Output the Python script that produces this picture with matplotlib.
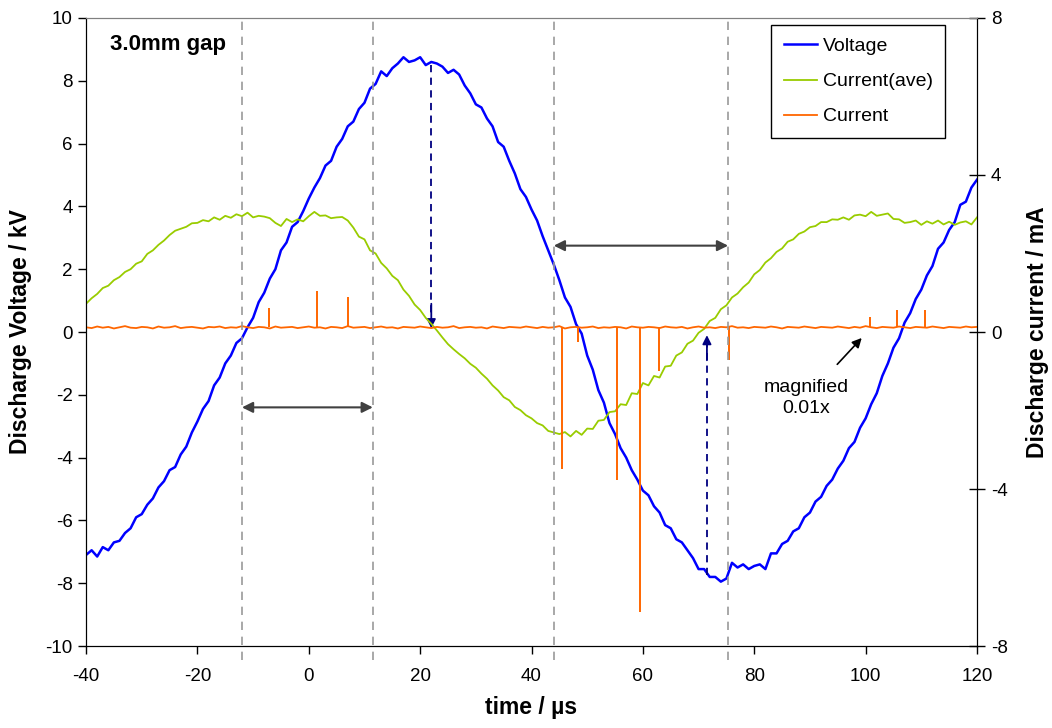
import numpy as np
import matplotlib.pyplot as plt
import matplotlib.transforms as mtransforms

plt.rcParams['font.family'] = ['Liberation Sans', 'DejaVu Sans']
plt.rcParams['axes.unicode_minus'] = False

# time axis, 1 us steps
t = np.arange(-40, 121, 1)

# discharge voltage (kV)
volt = [
    -7.10, -6.95, -7.15, -6.85, -6.95, -6.70, -6.65, -6.40, -6.25, -5.90,
    -5.80, -5.50, -5.30, -4.95, -4.75, -4.40, -4.30, -3.90, -3.65, -3.20,
    -2.85, -2.45, -2.20, -1.70, -1.45, -1.00, -0.75, -0.35, -0.20, 0.15,
    0.45, 0.95, 1.25, 1.70, 2.00, 2.60, 2.85, 3.35, 3.50, 3.85,
    4.25, 4.60, 4.90, 5.30, 5.45, 5.90, 6.15, 6.55, 6.70, 7.10,
    7.30, 7.75, 7.90, 8.30, 8.15, 8.40, 8.55, 8.75, 8.60, 8.65,
    8.75, 8.50, 8.60, 8.55, 8.45, 8.25, 8.35, 8.20, 7.85, 7.60,
    7.25, 7.15, 6.80, 6.55, 6.05, 5.90, 5.45, 5.05, 4.55, 4.30,
    3.90, 3.55, 3.05, 2.60, 2.15, 1.65, 1.10, 0.80, 0.25, -0.05,
    -0.75, -1.20, -1.85, -2.25, -2.90, -3.25, -3.70, -4.00, -4.40, -4.70,
    -5.05, -5.20, -5.55, -5.75, -6.15, -6.25, -6.60, -6.70, -6.95, -7.20,
    -7.55, -7.55, -7.80, -7.80, -7.95, -7.85, -7.35, -7.50, -7.40, -7.55,
    -7.45, -7.40, -7.55, -7.05, -7.05, -6.75, -6.65, -6.35, -6.25, -5.90,
    -5.75, -5.40, -5.25, -4.90, -4.70, -4.35, -4.10, -3.70, -3.50, -3.05,
    -2.75, -2.30, -1.95, -1.40, -1.00, -0.50, -0.20, 0.30, 0.60, 1.05,
    1.35, 1.80, 2.10, 2.65, 2.85, 3.25, 3.50, 4.05, 4.15, 4.60, 4.85,
]

# averaged discharge current (mA)
cur_ave = [
    0.72, 0.86, 0.97, 1.12, 1.18, 1.32, 1.40, 1.53, 1.60, 1.74,
    1.80, 1.99, 2.08, 2.22, 2.33, 2.47, 2.58, 2.63, 2.68, 2.77,
    2.78, 2.85, 2.82, 2.92, 2.86, 2.96, 2.91, 3.00, 2.95, 3.04,
    2.92, 2.96, 2.94, 2.90, 2.78, 2.70, 2.88, 2.80, 2.87, 2.82,
    2.95, 3.06, 2.96, 2.97, 2.90, 2.92, 2.93, 2.84, 2.66, 2.43,
    2.36, 2.08, 2.00, 1.76, 1.62, 1.43, 1.32, 1.08, 0.92, 0.70,
    0.56, 0.36, 0.21, 0.04, -0.14, -0.31, -0.44, -0.56, -0.67, -0.81,
    -0.91, -1.06, -1.19, -1.36, -1.49, -1.66, -1.74, -1.91, -1.99, -2.12,
    -2.20, -2.32, -2.38, -2.52, -2.56, -2.60, -2.55, -2.66, -2.52, -2.62,
    -2.46, -2.47, -2.26, -2.24, -2.04, -2.02, -1.84, -1.86, -1.56, -1.58,
    -1.30, -1.36, -1.12, -1.16, -0.88, -0.86, -0.60, -0.52, -0.30, -0.22,
    -0.02, 0.08, 0.28, 0.36, 0.58, 0.68, 0.88, 0.98, 1.14, 1.26,
    1.47, 1.58, 1.77, 1.88, 2.04, 2.13, 2.30, 2.36, 2.50, 2.56,
    2.67, 2.70, 2.80, 2.80, 2.87, 2.86, 2.92, 2.86, 2.97, 2.99,
    2.95, 3.06, 2.96, 2.99, 3.02, 2.88, 2.87, 2.78, 2.80, 2.84,
    2.73, 2.82, 2.76, 2.84, 2.74, 2.81, 2.73, 2.79, 2.82, 2.74, 2.92,
]

# instantaneous current (mA, x0.01) - baseline
cur = [
    0.12, 0.10, 0.14, 0.11, 0.13, 0.09, 0.12, 0.15, 0.11, 0.10,
    0.13, 0.12, 0.09, 0.14, 0.11, 0.12, 0.15, 0.10, 0.12, 0.13,
    0.11, 0.09, 0.13, 0.12, 0.14, 0.10, 0.12, 0.11, 0.15, 0.12,
    0.10, 0.13, 0.12, 0.09, 0.14, 0.11, 0.12, 0.13, 0.10, 0.12,
    0.14, 0.11, 0.12, 0.09, 0.13, 0.12, 0.10, 0.15, 0.11, 0.12,
    0.13, 0.10, 0.12, 0.14, 0.11, 0.12, 0.09, 0.13, 0.12, 0.11,
    0.14, 0.12, 0.10, 0.13, 0.11, 0.12, 0.15, 0.10, 0.12, 0.13,
    0.11, 0.12, 0.09, 0.14, 0.12, 0.10, 0.13, 0.12, 0.11, 0.14,
    0.12, 0.10, 0.13, 0.11, 0.12, 0.15, 0.09, 0.12, 0.13, 0.11,
    0.12, 0.14, 0.10, 0.12, 0.11, 0.13, 0.12, 0.09, 0.14, 0.12,
    0.11, 0.13, 0.12, 0.10, 0.14, 0.12, 0.11, 0.13, 0.09, 0.12,
    0.14, 0.11, 0.12, 0.10, 0.13, 0.12, 0.15, 0.11, 0.12, 0.10,
    0.13, 0.12, 0.11, 0.14, 0.12, 0.09, 0.13, 0.12, 0.11, 0.14,
    0.12, 0.10, 0.13, 0.12, 0.11, 0.14, 0.12, 0.10, 0.13, 0.11,
    0.15, 0.12, 0.10, 0.13, 0.12, 0.11, 0.14, 0.12, 0.10, 0.13,
    0.12, 0.11, 0.14, 0.12, 0.10, 0.13, 0.12, 0.11, 0.14, 0.12, 0.13,
]

# discharge pulses on the current trace
spike_t = [-7.2, 1.5, 7.0, 45.5, 48.3, 55.3, 59.4, 62.9, 75.5, 100.8, 105.6, 110.7]
spike_i = [0.62, 1.05, 0.90, -3.50, -0.25, -3.77, -7.13, -1.00, -0.71, 0.38, 0.56, 0.56]
spike_base = 0.12

# phase markers (us)
marks = [-12.0, 11.5, 44.0, 75.3]

BLUE = '#0000FF'
GREEN = '#99CC00'
ORANGE = '#FF6600'
NAVY = '#000080'

fig = plt.figure(figsize=(10.52, 7.28), dpi=100)
ax = fig.add_axes([0.0818, 0.1126, 0.8469, 0.8627])
ax2 = ax.twinx()

l1, = ax.plot(t, volt, color=BLUE, lw=1.8, label='Voltage')
l2, = ax2.plot(t, cur_ave, color=GREEN, lw=1.3, label='Current(ave)')
l3, = ax2.plot(t, cur, color=ORANGE, lw=1.3, label='Current')
ax2.vlines(spike_t, spike_base, spike_i, color=ORANGE, lw=1.4)

ax.set_xlim(-40, 120)
ax.set_ylim(-10, 10)
ax2.set_ylim(-8, 8)
ax.set_xticks(np.arange(-40, 121, 20))
ax.set_yticks(np.arange(-10, 11, 2))
ax2.set_yticks([-8, -4, 0, 4, 8])

ax.tick_params(axis='both', labelsize=13.5, direction='out', length=6, width=1)
ax.tick_params(axis='x', pad=10)
ax2.tick_params(axis='y', labelsize=13.5, direction='inout', length=12, width=1, pad=4)

for a in (ax, ax2):
    a.spines['top'].set_color('#808080')
    a.spines['left'].set_color('black')
    a.spines['bottom'].set_color('black')
    a.spines['right'].set_color('black')

ax.set_xlabel('time / µs', fontsize=16.5, fontweight='bold', labelpad=8)
ax.set_ylabel('Discharge Voltage / kV', fontsize=16.5, fontweight='bold', labelpad=10)
ax2.set_ylabel('Discharge current / mA', fontsize=16.5, fontweight='bold', labelpad=13)

# dashed phase markers, running slightly below the axis
trans = mtransforms.blended_transform_factory(ax.transData, ax.transAxes)
for m in marks:
    ax2.plot([m, m], [-0.022, 1.0], transform=trans, color='#999999', lw=1.2,
             ls=(0, (5, 4)), clip_on=False)

# double-headed interval arrows
ax.annotate('', xy=(marks[0], -2.4), xytext=(marks[1], -2.4),
            arrowprops=dict(arrowstyle='<|-|>', color='#404040', lw=1.5,
                            mutation_scale=16, shrinkA=0, shrinkB=0))
ax.annotate('', xy=(marks[2], 2.75), xytext=(marks[3], 2.75),
            arrowprops=dict(arrowstyle='<|-|>', color='#404040', lw=1.5,
                            mutation_scale=16, shrinkA=0, shrinkB=0))

# voltage peak -> zero current, dashed navy arrows
ax.plot([22, 22], [8.5, 0.5], color=NAVY, lw=1.3, ls=(0, (4, 3)))
ax.annotate('', xy=(22, 0.12), xytext=(22, 0.9),
            arrowprops=dict(arrowstyle='-|>', color=NAVY, lw=1.3,
                            mutation_scale=13, shrinkA=0, shrinkB=0))
ax.plot([71.5, 71.5], [-7.75, -0.4], color=NAVY, lw=1.3, ls=(0, (4, 3)))
ax.annotate('', xy=(71.5, -0.1), xytext=(71.5, -0.9),
            arrowprops=dict(arrowstyle='-|>', color=NAVY, lw=1.3,
                            mutation_scale=13, shrinkA=0, shrinkB=0))

ax.annotate('magnified\n0.01x', xy=(99.3, -0.19), xytext=(89.3, -2.1),
            fontsize=14, ha='center', va='center', linespacing=1.25,
            arrowprops=dict(arrowstyle='-|>', color='black', lw=1.2,
                            mutation_scale=14, shrinkA=12, shrinkB=0))

ax.text(0.027, 0.957, '3.0mm gap', transform=ax.transAxes, fontsize=16,
        fontweight='bold', va='center', ha='left')

leg = fig.legend([l1, l2, l3], ['Voltage', 'Current(ave)', 'Current'],
                 loc='upper left', bbox_to_anchor=(771 / 1052, 1 - 25 / 728),
                 fontsize=14, frameon=True, fancybox=False, edgecolor='black',
                 framealpha=1, handlelength=1.7, handletextpad=0.3,
                 labelspacing=0.9, borderpad=0.65, borderaxespad=0)
leg.get_frame().set_linewidth(1.0)

fig.savefig('out.png', dpi=100)
